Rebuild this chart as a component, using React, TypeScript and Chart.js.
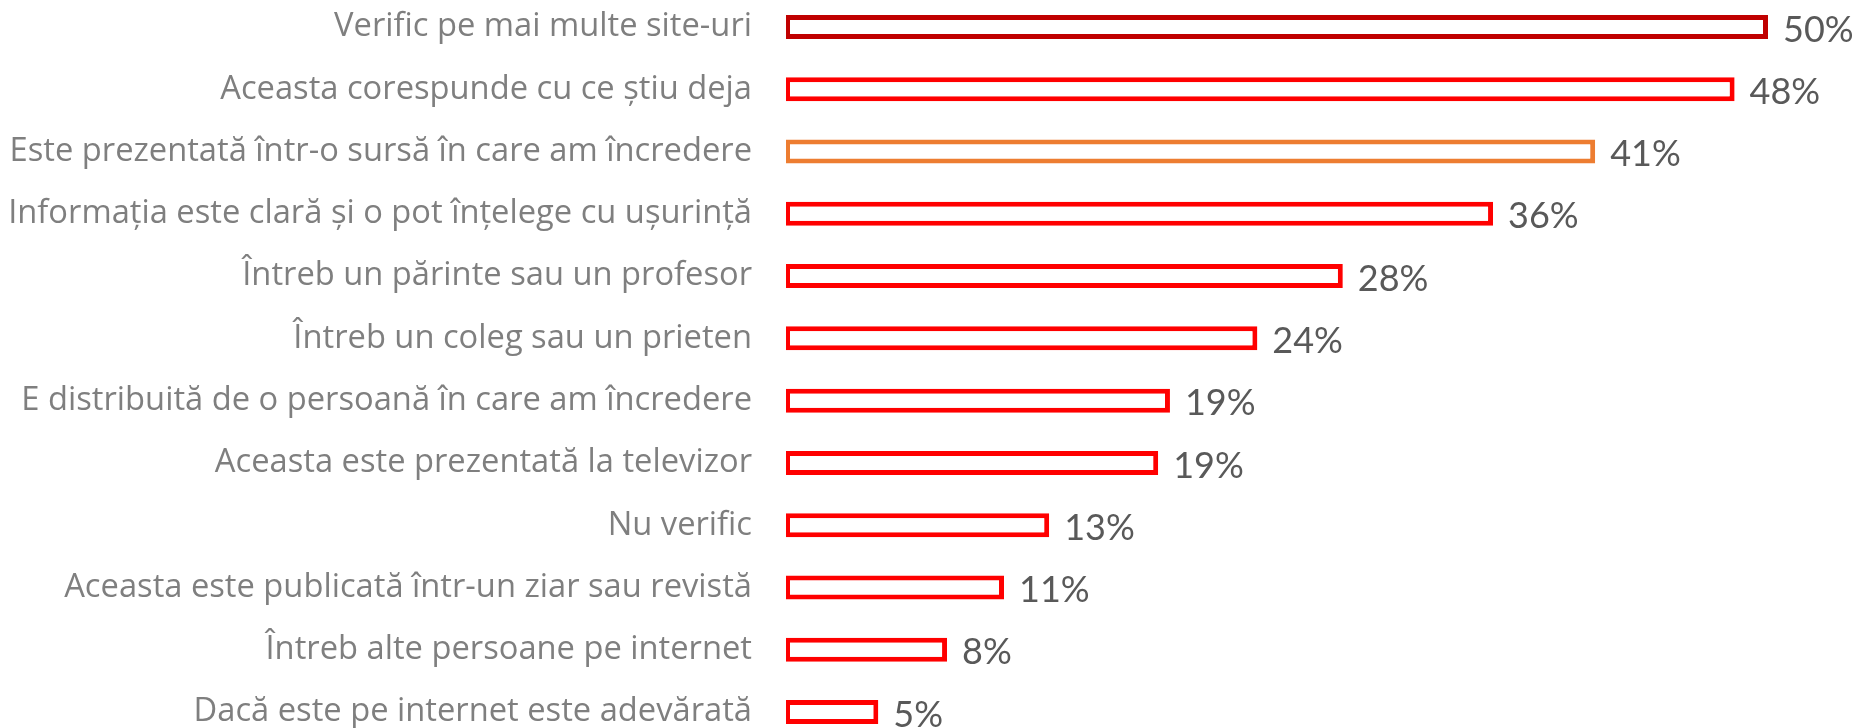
import React, { useEffect, useRef } from "react";
import { Chart, registerables } from "chart.js";

Chart.register(...registerables);

const categories = [
  "Verific pe mai multe site-uri",
  "Aceasta corespunde cu ce știu deja",
  "Este prezentată într-o sursă în care am încredere",
  "Informația este clară și o pot înțelege cu ușurință",
  "Întreb un părinte sau un profesor",
  "Întreb un coleg sau un prieten",
  "E distribuită de o persoană în care am încredere",
  "Aceasta este prezentată la televizor",
  "Nu verific",
  "Aceasta este publicată într-un ziar sau revistă",
  "Întreb alte persoane pe internet",
  "Dacă este pe internet este adevărată",
];

const values = [50, 48.3, 41.2, 36.0, 28.35, 24.0, 19.55, 18.95, 13.4, 11.1, 8.2, 4.7];
const valueLabels = ["50%", "48%", "41%", "36%", "28%", "24%", "19%", "19%", "13%", "11%", "8%", "5%"];
const borderColors = [
  "#C00000", "#FF0000", "#ED7D31", "#FF0000", "#FF0000", "#FF0000",
  "#FF0000", "#FF0000", "#FF0000", "#FF0000", "#FF0000", "#FF0000",
];

const dataLabelPlugin = {
  id: "dataLabels",
  afterDatasetsDraw(chart: any) {
    const ctx = chart.ctx;
    const meta = chart.getDatasetMeta(0);
    ctx.save();
    ctx.font = "36px Lato";
    ctx.fillStyle = "#595959";
    ctx.textAlign = "left";
    ctx.textBaseline = "middle";
    meta.data.forEach((bar: any, i: number) => {
      ctx.fillText(valueLabels[i], bar.x + 15, bar.y + 3);
    });
    ctx.restore();
  },
};

export default function App() {
  const ref = useRef<HTMLCanvasElement>(null);
  useEffect(() => {
    if (!ref.current) return;
    const chart = new Chart(ref.current, {
      type: "bar",
      data: {
        labels: categories,
        datasets: [
          {
            data: values,
            backgroundColor: "#FFFFFF",
            borderColor: borderColors,
            borderWidth: { left: 4, top: 5, right: 5, bottom: 5 },
            borderSkipped: false,
            barPercentage: 24 / 62.3,
            categoryPercentage: 1,
            clip: false,
          },
        ],
      },
      options: {
        indexAxis: "y",
        animation: false,
        responsive: false,
        maintainAspectRatio: false,
        layout: { padding: { top: 27, bottom: 16, left: 0, right: 91 } },
        plugins: { legend: { display: false }, tooltip: { enabled: false } },
        scales: {
          x: { display: false, min: 0, max: 50 },
          y: {
            offset: false,
            grid: { display: false, drawTicks: false },
            border: { display: false },
            ticks: {
              padding: 34,
              color: "#7F7F7F",
              font: { family: "'Open Sans'", size: 32.7 },
              autoSkip: false,
            },
            afterFit: (scale: any) => {
              scale.width = 786;
              scale.paddingTop = 0;
              scale.paddingBottom = 0;
            },
          },
        },
      },
      plugins: [dataLabelPlugin],
    });
    return () => chart.destroy();
  }, []);
  return (
    <div style={{ position: "fixed", left: 0, top: 0, width: 1859, height: 728, background: "#fff" }}>
      <canvas ref={ref} width={1859} height={728} style={{ width: 1859, height: 728 }} />
    </div>
  );
}
